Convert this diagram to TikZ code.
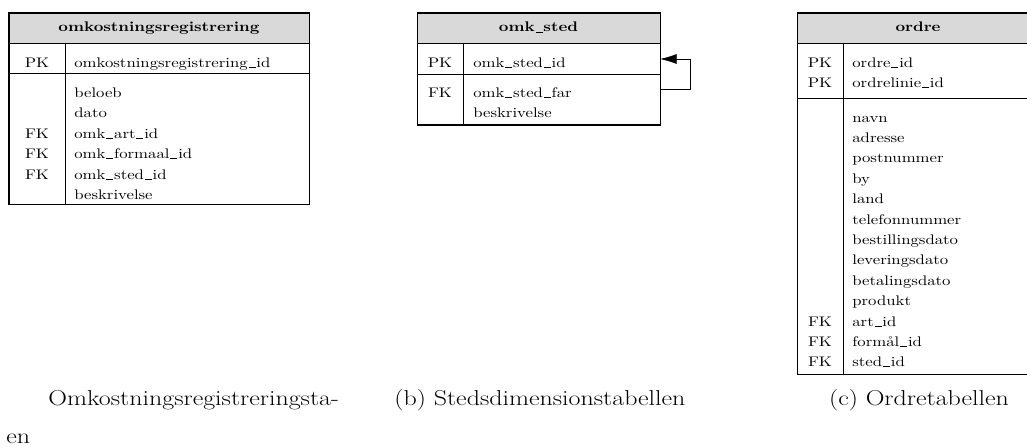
\documentclass[tikz,border=0pt]{standalone}
\usetikzlibrary{arrows.meta}
\usepackage{graphicx}
\newcommand{\us}{\kern0.05em\rule[-0.5pt]{0.42em}{0.8pt}\kern0.05em}
\newcommand{\sq}[1]{\scalebox{1}[0.83]{#1}}
\tikzset{
  px/.style={x=0.5975pt,y=-0.5975pt},
  outer/.style={draw=black, line width=0.6pt},
  inner/.style={draw=black, line width=0.45pt},
  hdrfill/.style={fill=black!15},
  fld/.style={anchor=base west, inner sep=0pt},
  key/.style={anchor=base, inner sep=0pt},
  hdr/.style={anchor=base, inner sep=0pt, font=\bfseries},
  captxt/.style={anchor=base west, inner sep=0pt, font=\fontsize{15.5}{18}\selectfont},
  selfref/.style={inner, -{Latex[length=10pt,width=6pt]}},
}
\begin{document}
\begin{tikzpicture}[px]
\clip (0,0) rectangle (1027,446);
% ---------- table 1: omkostningsregistrering ----------
\fill[hdrfill] (9,13) rectangle (309,43);
\draw[inner] (9,43) -- (309,43);
\draw[inner] (9,73) -- (309,73);
\draw[inner] (65,43) -- (65,204);
\draw[outer] (9,13) rectangle (309,204);
\node[hdr] (t1h) at (159,32) {\sq{omkostningsregistrering}};
\node[key] (t1k1) at (37,67) {\sq{PK}};
\node[fld] (t1f1) at (74,67) {\sq{omkostningsregistrering\us id}};
\node[fld] (t1f2) at (74,97.5) {\sq{beloeb}};
\node[fld] (t1f3) at (74,117.9) {\sq{dato}};
\node[key] (t1k3) at (37,138.3) {\sq{FK}};
\node[fld] (t1f4) at (74,138.3) {\sq{omk\us art\us id}};
\node[key] (t1k4) at (37,158.7) {\sq{FK}};
\node[fld] (t1f5) at (74,158.7) {\sq{omk\us formaal\us id}};
\node[key] (t1k5) at (37,179.1) {\sq{FK}};
\node[fld] (t1f6) at (74,179.1) {\sq{omk\us sted\us id}};
\node[fld] (t1f7) at (74,199.5) {\sq{beskrivelse}};
% ---------- table 2: omk_sted ----------
\fill[hdrfill] (417,13) rectangle (660,43);
\draw[inner] (417,43) -- (660,43);
\draw[inner] (417,74) -- (660,74);
\draw[inner] (463,43) -- (463,125);
\draw[outer] (417,13) rectangle (660,125);
\node[hdr] (t2h) at (538.5,32) {\sq{omk\us sted}};
\node[key] (t2k1) at (440,67) {\sq{PK}};
\node[fld] (t2f1) at (473,67) {\sq{omk\us sted\us id}};
\node[key] (t2k2) at (440,97) {\sq{FK}};
\node[fld] (t2f2) at (473,97) {\sq{omk\us sted\us far}};
\node[fld] (t2f3) at (473,117.4) {\sq{beskrivelse}};
\coordinate (t2fk) at (660,89);
\coordinate (t2pk) at (660,59);
\draw[selfref] (t2fk) -- ++(30,0) |- (t2pk);
% ---------- table 3: ordre ----------
\fill[hdrfill] (797,13) rectangle (1039,43);
\draw[inner] (797,43) -- (1039,43);
\draw[inner] (797,98) -- (1039,98);
\draw[inner] (843,43) -- (843,374);
\draw[outer] (797,13) rectangle (1039,374);
\node[hdr] (t3h) at (918,32) {\sq{ordre}};
\node[key] (t3k1) at (820,67) {\sq{PK}};
\node[fld] (t3f1) at (852,67) {\sq{ordre\us id}};
\node[key] (t3k2) at (820,87.4) {\sq{PK}};
\node[fld] (t3f2) at (852,87.4) {\sq{ordrelinie\us id}};
\node[fld] (t3f3) at (852,122.0) {\sq{navn}};
\node[fld] (t3f4) at (852,142.4) {\sq{adresse}};
\node[fld] (t3f5) at (852,162.8) {\sq{postnummer}};
\node[fld] (t3f6) at (852,183.2) {\sq{by}};
\node[fld] (t3f7) at (852,203.6) {\sq{land}};
\node[fld] (t3f8) at (852,224.0) {\sq{telefonnummer}};
\node[fld] (t3f9) at (852,244.4) {\sq{bestillingsdato}};
\node[fld] (t3f10) at (852,264.8) {\sq{leveringsdato}};
\node[fld] (t3f11) at (852,285.2) {\sq{betalingsdato}};
\node[fld] (t3f12) at (852,305.6) {\sq{produkt}};
\node[key] (t3k13) at (820,326.0) {\sq{FK}};
\node[fld] (t3f13) at (852,326.0) {\sq{art\us id}};
\node[key] (t3k14) at (820,346.4) {\sq{FK}};
\node[fld] (t3f14) at (852,346.4) {\sq{formål\us id}};
\node[key] (t3k15) at (820,366.8) {\sq{FK}};
\node[fld] (t3f15) at (852,366.8) {\sq{sted\us id}};
% ---------- captions ----------
\node[captxt] (capa1) at (48,405) {\sq{Omkostningsregistreringsta-}};
\node[captxt] (capa2) at (6,443) {\sq{en}};
\node[captxt] (capb) at (394,405) {\sq{(b) Stedsdimensionstabellen}};
\node[captxt, anchor=base] (capc) at (919,405) {\sq{(c) Ordretabellen}};
\end{tikzpicture}
\end{document}
